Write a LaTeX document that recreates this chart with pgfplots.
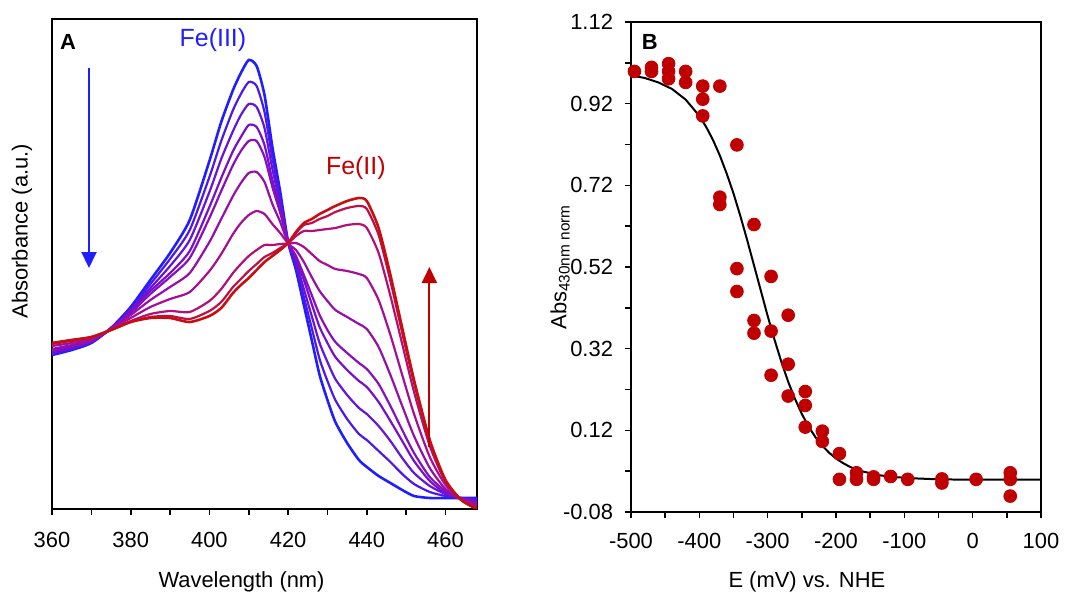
\documentclass[border=0pt]{standalone}
\usepackage{fontspec}
\setmainfont{Liberation Sans}
\usepackage{pgfplots}
\usepackage{pgfplotstable}
\pgfplotsset{compat=1.18}
\usetikzlibrary{arrows.meta}

\definecolor{c1}{RGB}{30,30,255}
\definecolor{c2}{RGB}{75,25,235}
\definecolor{c3}{RGB}{100,20,220}
\definecolor{c4}{RGB}{120,15,205}
\definecolor{c5}{RGB}{135,15,190}
\definecolor{c6}{RGB}{150,15,170}
\definecolor{c7}{RGB}{165,15,150}
\definecolor{c8}{RGB}{178,15,120}
\definecolor{c9}{RGB}{190,15,70}
\definecolor{c10}{RGB}{200,15,15}
\definecolor{dotred}{RGB}{192,0,0}
\definecolor{fe3}{RGB}{30,30,255}

% spectra, heights in arbitrary units
\pgfplotstableread{
nm  c1  c2  c3  c4  c5  c6  c7  c8  c9  c10
360 154 155 156 158 158 160 163 165 166 166
365 159 160 161 162 163 164 166 168 169 169
370 166 167 167 168 168 169 170 171 172 172
375 181 181 181 180 180 180 180 179 179 179
380 202 200 199 198 196 194 191 188 187 187
385 229 225 221 218 215 209 202 195 192 191
390 256 250 243 236 232 222 210 198 193 191
395 289 279 269 258 251 236 217 197 190 187
400 348 332 317 302 291 267 238 208 198 193
403 387 368 350 331 318 290 255 220 207 201
406 419 399 378 358 344 313 275 236 222 216
408 436 415 394 372 358 326 286 245 230 224
410 449 427 405 384 368 336 294 253 238 231
412 443 423 402 382 368 337 298 259 245 239
414 414 397 381 364 352 327 295 264 252 247
416 362 351 340 329 322 305 285 264 256 253
418 317 311 305 300 296 287 276 265 261 259
420 267 267 267 267 267 266 266 266 266 266
422 239 243 247 250 253 259 266 273 276 277
424 204 212 220 229 234 247 262 278 284 286
426 169 181 193 205 214 232 255 278 286 290
428 134 150 166 182 194 218 248 279 290 295
430 109 128 147 166 179 208 244 280 293 299
432 87  109 130 152 167 199 240 281 297 303
435 66  90  114 139 156 192 238 284 301 308
438 49  75  101 128 146 185 235 285 303 311
440 42  69  95  122 140 180 231 281 300 308
443 33  58  83  107 125 162 209 256 274 281
446 26  47  68  88  103 134 174 213 228 234
449 19  35  51  68  79  103 134 165 176 181
452 13  25  36  48  56  73  95  117 126 129
456 11  17  23  28  32  41  52  63  67  69
460 11  13  15  16  18  20  24  27  28  29
464 11  11  11  10  10  10  10  9   9   9
468 11  10  9   8   7   5   3   1   0   0
}\spectra

\pgfplotstableread{
E    A
-495 0.999
-470 1.009
-470 0.999
-445 1.018
-445 0.999
-445 0.981
-420 0.999
-420 0.972
-395 0.963
-395 0.931
-395 0.890
-370 0.963
-345 0.819
-370 0.691
-370 0.673
-320 0.624
-345 0.516
-345 0.460
-295 0.497
-320 0.389
-320 0.358
-270 0.402
-295 0.363
-270 0.282
-295 0.255
-245 0.215
-245 0.181
-270 0.204
-245 0.128
-220 0.118
-220 0.093
-195 0.063
-195 0.000
-170 0.016
-170 0.000
-145 0.006
-145 0.000
-120 0.007
-95  0.000
-45  0.001
-45  -0.009
5    0.000
55   0.016
55   0.000
55   -0.041
}\points

\pgfplotstableread{
E    A
-500 0.989
-480 0.983
-460 0.972
-440 0.956
-420 0.930
-400 0.890
-390 0.863
-380 0.831
-370 0.793
-360 0.749
-350 0.700
-340 0.645
-330 0.586
-320 0.524
-310 0.462
-300 0.400
-290 0.342
-280 0.288
-270 0.239
-260 0.197
-250 0.160
-240 0.129
-230 0.103
-220 0.082
-210 0.065
-200 0.051
-190 0.040
-180 0.031
-170 0.024
-160 0.019
-140 0.011
-120 0.006
-100 0.004
-80  0.002
-50  0.000
0    -0.001
100  -0.001
}\fit

\pgfplotsset{
  every axis/.append style={
    font=\fontsize{11}{13}\selectfont,
    scale only axis,
    anchor=south west,
    tick align=outside,
    xtick pos=left,
    major tick length=3bp,
    minor tick length=3bp,
    tick style={black, line width=0.8pt},
    axis line style={line width=0.9pt},
  },
  spec/.style={line width=1.1pt, smooth, tension=0.4},
}

\begin{document}
\begin{tikzpicture}
\useasboundingbox (0,0) rectangle (536.5bp,296bp);

% panel A
\begin{axis}[
  at={(26bp,41.5bp)},
  width=212.5bp, height=245bp,
  xmin=360, xmax=468, ymin=0, ymax=490,
  xtick={360,380,400,420,440,460},
  xticklabels={360,380,400,420,440,460},
  minor xtick={370,390,410,430,450},
  ytick=\empty,
  xticklabel style={yshift=-5bp},
  xlabel={Wavelength (nm)},
  ylabel={Absorbance (a.u.)},
  xlabel style={at={(axis description cs:0.446,-0.149)}, anchor=center},
  ylabel style={at={(axis description cs:-0.0706,0.567)}, anchor=center},
]
\addplot[spec, c1, line width=1.3pt] table[x=nm, y=c1] {\spectra};
\addplot[spec, c2] table[x=nm, y=c2] {\spectra};
\addplot[spec, c3] table[x=nm, y=c3] {\spectra};
\addplot[spec, c4] table[x=nm, y=c4] {\spectra};
\addplot[spec, c5] table[x=nm, y=c5] {\spectra};
\addplot[spec, c6] table[x=nm, y=c6] {\spectra};
\addplot[spec, c7] table[x=nm, y=c7] {\spectra};
\addplot[spec, c8] table[x=nm, y=c8] {\spectra};
\addplot[spec, c9] table[x=nm, y=c9] {\spectra};
\addplot[spec, c10, line width=1.3pt] table[x=nm, y=c10] {\spectra};
\draw[fe3, line width=1pt, -{Triangle[width=7.5bp, length=8bp]}]
  (axis cs:369.4,441) -- (axis cs:369.4,241);
\draw[dotred, line width=1pt, -{Triangle[width=7.5bp, length=8bp]}]
  (axis cs:455.9,62) -- (axis cs:455.9,242);
\node[text=fe3, font=\fontsize{12.5}{14}\selectfont] at (axis cs:400.9,469) {Fe(III)};
\node[text=dotred, font=\fontsize{12.5}{14}\selectfont] at (axis cs:437.2,341) {Fe(II)};
\node[font=\fontsize{11}{13}\selectfont\bfseries] at (axis description cs:0.038,0.953) {A};
\end{axis}

% panel B
\begin{axis}[
  at={(315.5bp,40bp)},
  width=205bp, height=245bp,
  xmin=-500, xmax=100, ymin=-0.08, ymax=1.12,
  xtick={-500,-400,-300,-200,-100,0,100},
  xticklabels={-500,-400,-300,-200,-100,0,100},
  minor xtick={-450,-350,-250,-150,-50,50},
  ytick={-0.08,0.12,0.32,0.52,0.72,0.92,1.12},
  yticklabels={-0.08,0.12,0.32,0.52,0.72,0.92,1.12},
  minor ytick={0.02,0.22,0.42,0.62,0.82,1.02},
  ytick pos=left,
  xticklabel style={yshift=-4bp},
  yticklabel style={xshift=-2.5bp},
  clip=false,
  xlabel={E (mV) vs. NHE},
  ylabel={Abs\textsubscript{430nm norm}},
  xlabel style={at={(axis description cs:0.429,-0.143)}, anchor=center},
  ylabel style={at={(axis description cs:-0.173,0.5)}, anchor=center},
]
\addplot[black, line width=1pt] table[x=E, y=A] {\fit};
\addplot[only marks, mark=*, mark size=3.2bp, mark options={draw=dotred, fill=dotred}]
  table[x=E, y=A] {\points};
\node[font=\fontsize{11}{13}\selectfont\bfseries] at (axis description cs:0.046,0.959) {B};
\end{axis}
\end{tikzpicture}
\end{document}
